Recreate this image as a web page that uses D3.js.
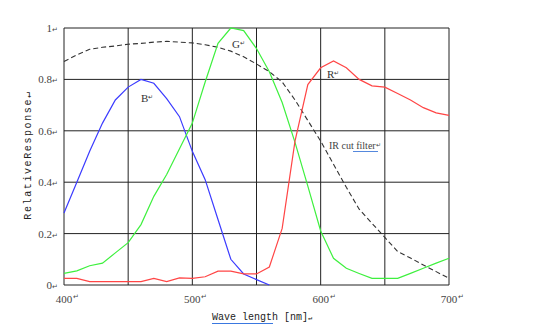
<!DOCTYPE html>
<html><head><meta charset="utf-8">
<script src="https://cdn.jsdelivr.net/npm/d3@7"></script>
<style>body{margin:0;background:#fff}svg{display:block}</style>
</head><body>
<svg id="c" width="554" height="331"></svg>
<script>
const wavelengths = [400,410,420,430,440,450,460,470,480,490,500,510,520,530,540,550,560,570,580,590,600,610,620,630,640,650,660,670,680,690,700];
const blueB  = [0.28,0.40,0.52,0.63,0.72,0.77,0.80,0.785,0.725,0.655,0.52,0.41,0.255,0.10,0.043,0.021,0.0];
const greenG = [0.045,0.055,0.075,0.085,0.125,0.165,0.235,0.345,0.43,0.53,0.63,0.79,0.94,1.0,0.99,0.92,0.83,0.71,0.555,0.385,0.21,0.104,0.065,0.045,0.026,0.026,0.026,0.045,0.065,0.085,0.104];
const redR   = [0.026,0.026,0.013,0.013,0.013,0.013,0.013,0.026,0.013,0.028,0.026,0.032,0.054,0.054,0.043,0.043,0.07,0.22,0.56,0.78,0.845,0.872,0.845,0.80,0.775,0.77,0.745,0.72,0.69,0.67,0.66];
const irCut  = [0.87,0.895,0.917,0.925,0.93,0.937,0.94,0.945,0.948,0.945,0.942,0.935,0.925,0.91,0.888,0.86,0.83,0.79,0.72,0.64,0.56,0.47,0.38,0.295,0.24,0.185,0.13,0.105,0.078,0.052,0.026];
const xTicks = [400,500,600,700];
const xGrid = [450,500,550,600,650,700];
const yTicks = [0,0.2,0.4,0.6,0.8,1];
const yTickLabels = ["0","0.2","0.4","0.6","0.8","1"];

const svg = d3.select("#c");
const x = d3.scaleLinear().domain([400,700]).range([64,449]);
const y = d3.scaleLinear().domain([0,1]).range([285,28]);
const mark = "\u21B5";

// grid
const g = svg.append("g");
g.selectAll("line.v").data(xGrid).join("line")
  .attr("x1",d=>x(d)).attr("x2",d=>x(d)).attr("y1",y(0)).attr("y2",y(1))
  .attr("stroke","#222").attr("stroke-width",1);
g.selectAll("line.h").data(yTicks.slice(1)).join("line")
  .attr("x1",x(400)).attr("x2",x(700)).attr("y1",d=>y(d)).attr("y2",d=>y(d))
  .attr("stroke","#222").attr("stroke-width",1);
// axes lines
g.append("line").attr("x1",x(400)).attr("x2",x(400)).attr("y1",y(0)).attr("y2",y(1)).attr("stroke","#222");
g.append("line").attr("x1",x(400)).attr("x2",x(700)).attr("y1",y(0)).attr("y2",y(0)).attr("stroke","#222");

// y tick labels
const yl = svg.append("g").attr("font-family","Liberation Serif, serif").attr("font-size",11).attr("fill","#444");
yTicks.forEach((t,i)=>{
  const tx = yl.append("text").attr("x",58).attr("y",y(t)+4).attr("text-anchor","end");
  tx.append("tspan").text(yTickLabels[i]);
  tx.append("tspan").attr("font-size",7).text(mark);
});
// x tick labels
const xl = svg.append("g").attr("font-family","Liberation Serif, serif").attr("font-size",11).attr("fill","#444");
xTicks.forEach(t=>{
  xl.append("text").attr("x",x(t)).attr("y",303).attr("text-anchor","middle").text(t);
  xl.append("text").attr("x",x(t)+9).attr("y",299).attr("font-size",7).text(mark);
});

// lines
const line = vals => d3.line().x((d,i)=>x(wavelengths[i])).y(d=>y(d))(vals);
svg.append("path").attr("d",line(irCut)).attr("fill","none").attr("stroke","#333").attr("stroke-width",1.1).attr("stroke-dasharray","5,3");
svg.append("path").attr("d",line(blueB)).attr("fill","none").attr("stroke","#3b3bff").attr("stroke-width",1.2);
svg.append("path").attr("d",line(greenG)).attr("fill","none").attr("stroke","#3ef03e").attr("stroke-width",1.2);
svg.append("path").attr("d",line(redR)).attr("fill","none").attr("stroke","#ff4545").attr("stroke-width",1.2);

// series labels
const sl = svg.append("g").attr("font-family","Liberation Serif, serif").attr("font-size",11).attr("fill","#333");
[["B",141,102],["G",232,48],["R",327,78]].forEach(([t,px,py])=>{
  const tx = sl.append("text").attr("x",px).attr("y",py);
  tx.append("tspan").text(t);
  tx.append("tspan").attr("font-size",6).attr("dy",-3).text(mark);
});
const ir = sl.append("text").attr("x",329).attr("y",149).attr("font-size",10).attr("fill","#444");
ir.append("tspan").text("IR cut ");
const irf = ir.append("tspan").text("filter");
ir.append("tspan").attr("font-size",6).attr("dy",-2).text(mark);
sl.append("line").attr("x1",353).attr("x2",378).attr("y1",151.5).attr("y2",151.5).attr("stroke","#5588dd").attr("stroke-width",1);

// y axis title
svg.append("text").attr("transform","translate(31,155) rotate(-90)")
  .attr("text-anchor","middle").attr("font-family","Liberation Mono, monospace").attr("font-size",10)
  .attr("letter-spacing",1.6).attr("fill","#222").text("RelativeResponse" + mark);

// x axis title
const xt = svg.append("text").attr("x",212).attr("y",320).attr("font-family","Liberation Mono, monospace").attr("font-size",10).attr("fill","#222");
xt.append("tspan").text("Wave length [nm]");
xt.append("tspan").attr("font-size",7).text(mark);
svg.append("line").attr("x1",212).attr("x2",273).attr("y1",323.5).attr("y2",323.5).attr("stroke","#3a78e0").attr("stroke-width",1.2);
</script>
</body></html>
